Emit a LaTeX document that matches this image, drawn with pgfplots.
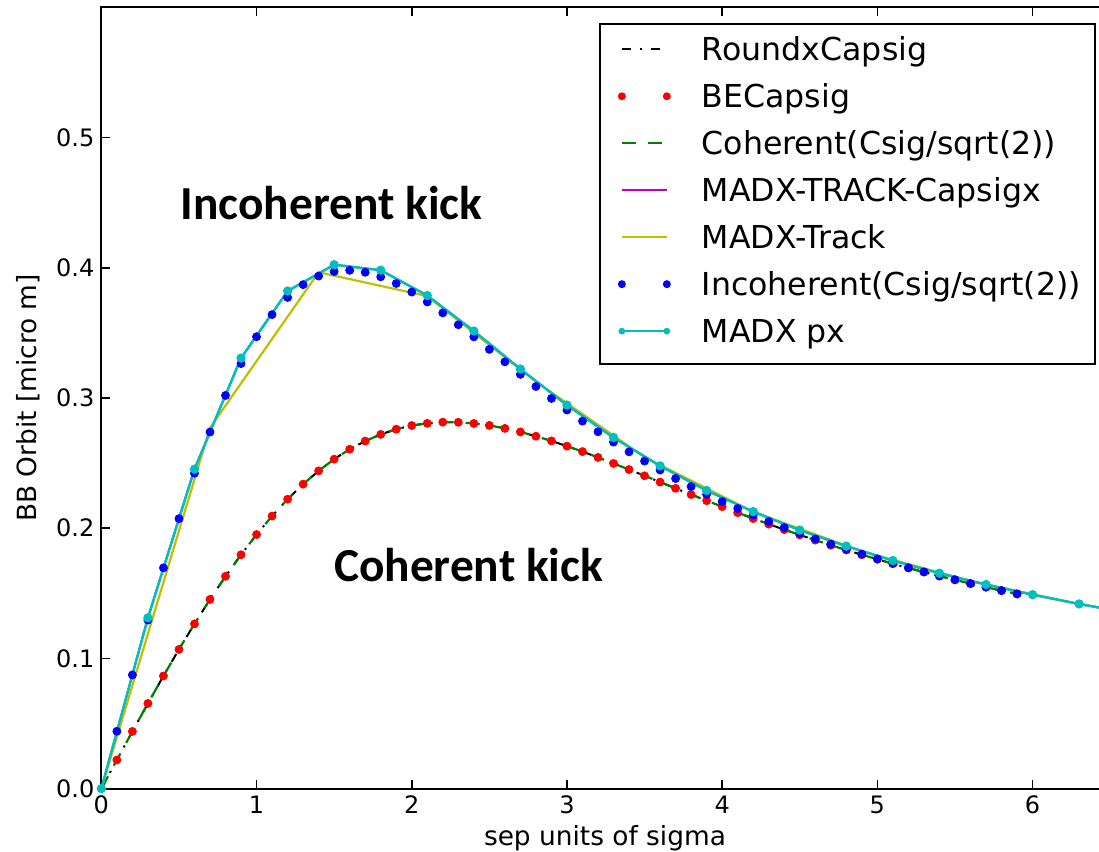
\documentclass[border=0pt]{standalone}
\usepackage{pgfplots}
\pgfplotsset{compat=1.18}
\usepackage{pgfplotstable}
\usepackage{fontspec}
\setmainfont{DejaVu Sans}
\newfontfamily\calibri{Carlito}

\definecolor{mplb}{rgb}{0,0,1}
\definecolor{mplg}{rgb}{0,0.5,0}
\definecolor{mplr}{rgb}{1,0,0}
\definecolor{mplc}{rgb}{0,0.75,0.75}
\definecolor{mplm}{rgb}{0.75,0,0.75}
\definecolor{mply}{rgb}{0.75,0.75,0}

% coherent kick (Csig/sqrt(2)), step 0.1
\pgfplotstableread{
x y
0 0
0.1 0.0220
0.2 0.0439
0.3 0.0654
0.4 0.0865
0.5 0.1069
0.6 0.1265
0.7 0.1453
0.8 0.1630
0.9 0.1796
1.0 0.1951
1.1 0.2093
1.2 0.2222
1.3 0.2338
1.4 0.2440
1.5 0.2530
1.6 0.2606
1.7 0.2669
1.8 0.2720
1.9 0.2760
2.0 0.2788
2.1 0.2805
2.2 0.2814
2.3 0.2813
2.4 0.2804
2.5 0.2789
2.6 0.2766
2.7 0.2739
2.8 0.2706
2.9 0.2670
3.0 0.2630
3.1 0.2588
3.2 0.2543
3.3 0.2497
3.4 0.2450
3.5 0.2402
3.6 0.2354
3.7 0.2306
3.8 0.2258
3.9 0.2211
4.0 0.2165
4.1 0.2119
4.2 0.2074
4.3 0.2031
4.4 0.1989
4.5 0.1948
4.6 0.1908
4.7 0.1869
4.8 0.1832
4.9 0.1796
5.0 0.1761
5.1 0.1727
5.2 0.1694
5.3 0.1663
5.4 0.1632
5.5 0.1603
5.6 0.1574
5.7 0.1547
5.8 0.1520
5.9 0.1495
}\coherent

% incoherent kick, step 0.1
\pgfplotstableread{
x y
0.1 0.0440
0.2 0.0873
0.3 0.1294
0.4 0.1695
0.5 0.2073
0.6 0.2422
0.7 0.2738
0.8 0.3019
0.9 0.3264
1.0 0.3470
1.1 0.3640
1.2 0.3772
1.3 0.3870
1.4 0.3936
1.5 0.3971
1.6 0.3980
1.7 0.3965
1.8 0.3930
1.9 0.3879
2.0 0.3813
2.1 0.3737
2.2 0.3653
2.3 0.3562
2.4 0.3469
2.5 0.3373
2.6 0.3277
2.7 0.3181
2.8 0.3088
2.9 0.2996
3.0 0.2907
3.1 0.2822
3.2 0.2740
3.3 0.2661
3.4 0.2586
3.5 0.2515
3.6 0.2446
3.7 0.2381
3.8 0.2319
3.9 0.2260
4.0 0.2204
4.1 0.2151
4.2 0.2100
4.3 0.2051
4.4 0.2004
4.5 0.1960
4.6 0.1917
4.7 0.1877
4.8 0.1838
4.9 0.1800
5.0 0.1764
5.1 0.1729
5.2 0.1696
5.3 0.1664
5.4 0.1633
5.5 0.1604
5.6 0.1575
5.7 0.1547
5.8 0.1521
5.9 0.1495
}\incoherent

% MADX px, step 0.3
\pgfplotstableread{
x y
0 0
0.3 0.1311
0.6 0.2453
0.9 0.3306
1.2 0.3821
1.5 0.4023
1.8 0.3981
2.1 0.3786
2.4 0.3514
2.7 0.3222
3.0 0.2945
3.3 0.2696
3.6 0.2478
3.9 0.2289
4.2 0.2127
4.5 0.1985
4.8 0.1862
5.1 0.1751
5.4 0.1654
5.7 0.1567
6.0 0.1489
6.3 0.1418
6.6 0.1353
}\madxpx

% MADX-Track, step 0.7
\pgfplotstableread{
x y
0 0
0.7 0.2771
1.4 0.3965
2.1 0.3782
2.8 0.3125
3.5 0.2545
4.2 0.2125
4.9 0.1822
5.6 0.1594
6.3 0.1417
7.0 0.1275
}\madxtrack

\begin{document}
\begin{tikzpicture}
\begin{axis}[
  name=ax,
  scale only axis,
  width=503.8pt, height=390.8pt,
  xmin=0, xmax=6.49, ymin=0, ymax=0.6,
  xtick={0,1,2,3,4,5,6},
  ytick={0,0.1,0.2,0.3,0.4,0.5},
  yticklabel style={/pgf/number format/fixed,/pgf/number format/fixed zerofill,/pgf/number format/precision=1},
  /pgf/number format/assume math mode=true,
  tick label style={font=\fontsize{12}{14}\selectfont},
  tick align=inside,
  major tick length=4.5pt,
  tick style={black, line width=0.8pt},
  axis line style={line width=1pt},
  xlabel={sep units of sigma},
  ylabel={BB Orbit [micro m]},
  label style={font=\fontsize{13.2}{15}\selectfont},
  xlabel style={at={(axis description cs:0.5,-0.0729)}, anchor=base},
  ylabel style={at={(axis description cs:-0.0642,0.5)}, anchor=base},
  legend cell align=left,
  legend style={at={(axis description cs:1,1)}, anchor=north east,
    xshift=-6.45pt, yshift=-8pt,
    font=\fontsize{15.8}{18}\selectfont,
    draw=black, line width=1pt, fill=white,
    inner xsep=7pt, inner ysep=6.75pt,
    row sep=8pt, column sep=13.35pt,
    nodes={inner sep=0pt, text height=11.5pt, text depth=4pt}},
]
\addplot[black, line width=1pt, dash pattern=on 4.5pt off 4.5pt on 1pt off 4.5pt,
  legend image code/.code={\path[draw=none] (-4.15pt,2pt) -- (26.65pt,2pt);
    \draw[black, line width=1pt, dash pattern=on 4.5pt off 4.5pt on 1pt off 4.5pt] (0pt,2pt) -- (22.5pt,2pt);}]
  table[x=x,y=y] {\coherent};
\addlegendentry{RoundxCapsig}
\addplot[only marks, mark=*, mplr, mark size=2pt, skip coords between index={0}{1},
  legend image code/.code={\path[draw=none] (-4.15pt,2pt) -- (26.65pt,2pt);
    \fill[mplr, draw=none] (0pt,2pt) circle[radius=2pt] (22.5pt,2pt) circle[radius=2pt];}]
  table[x=x,y=y] {\coherent};
\addlegendentry{BECapsig}
\addplot[mplg, line width=1.1pt, dash pattern=on 7pt off 6pt,
  legend image code/.code={\path[draw=none] (-4.15pt,2pt) -- (26.65pt,2pt);
    \draw[mplg, line width=1.1pt, dash pattern=on 7pt off 6pt] (0pt,2pt) -- (22.5pt,2pt);}]
  table[x=x,y=y] {\coherent};
\addlegendentry{Coherent(Csig/sqrt(2))}
\addplot[mplm, line width=1pt,
  legend image code/.code={\path[draw=none] (-4.15pt,2pt) -- (26.65pt,2pt);
    \draw[mplm, line width=1pt] (0pt,2pt) -- (22.5pt,2pt);}]
  table[x=x,y=y] {\madxpx};
\addlegendentry{MADX-TRACK-Capsigx}
\addplot[mply, line width=1.1pt,
  legend image code/.code={\path[draw=none] (-4.15pt,2pt) -- (26.65pt,2pt);
    \draw[mply, line width=1.1pt] (0pt,2pt) -- (22.5pt,2pt);}]
  table[x=x,y=y] {\madxtrack};
\addlegendentry{MADX-Track}
\addplot[only marks, mark=*, mplb, mark size=2pt,
  legend image code/.code={\path[draw=none] (-4.15pt,2pt) -- (26.65pt,2pt);
    \fill[mplb, draw=none] (0pt,2pt) circle[radius=2pt] (22.5pt,2pt) circle[radius=2pt];}]
  table[x=x,y=y] {\incoherent};
\addlegendentry{Incoherent(Csig/sqrt(2))}
\addplot[mplc, line width=1.2pt, mark=*, mark size=1.7pt,
  legend image code/.code={\path[draw=none] (-4.15pt,2pt) -- (26.65pt,2pt);
    \draw[mplc, line width=1.2pt] (0pt,2pt) -- (22.5pt,2pt);
    \fill[mplc, draw=none] (0pt,2pt) circle[radius=1.7pt] (22.5pt,2pt) circle[radius=1.7pt];}]
  table[x=x,y=y] {\madxpx};
\addlegendentry{MADX px}

\node[anchor=base, font=\calibri\bfseries\fontsize{23.7}{28}\selectfont] at (axis cs:1.483,0.4373) {Incoherent kick};
\node[anchor=base, font=\calibri\bfseries\fontsize{23.7}{28}\selectfont] at (axis cs:2.366,0.1589) {Coherent kick};
\end{axis}
\pgfresetboundingbox
\path[use as bounding box] ([xshift=-50.7pt,yshift=-31.5pt]ax.south west) rectangle ([xshift=-4.8pt,yshift=3.65pt]ax.north east);
\end{tikzpicture}
\end{document}
